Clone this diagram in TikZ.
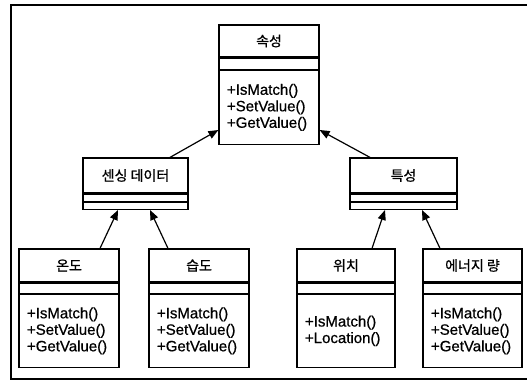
\documentclass[tikz,border=0pt]{standalone}
\usepackage{fontspec}
\setmainfont{Liberation Sans}
\newfontfamily\opsfont[FakeBold=0.7]{Liberation Sans}
\newfontfamily\kor[FakeBold=0.9]{Noto Sans CJK KR}
\usetikzlibrary{arrows.meta}

\begin{document}
\begin{tikzpicture}[x=1pt,y=-1pt,
  cls/.style={draw,line width=1.2pt,inner sep=0pt,font=\kor\fontsize{14}{16}\selectfont},
  part/.style={draw,line width=1.2pt,inner sep=0pt,anchor=north},
  ops/.style={draw,line width=1.2pt,anchor=north,align=left,inner xsep=8pt,inner ysep=0pt,font=\opsfont\fontsize{15}{16.5}\selectfont},
  isa/.style={line width=1.2pt,-{Triangle[length=10pt,width=8pt]}}]
\useasboundingbox (0,0) rectangle (527,380);
\draw[line width=1.5pt] (527,5) -- (11,5) -- (11,379) -- (527,379);

\node[cls,minimum width=100pt,minimum height=32pt] (sok) at (269,41) {속성};
\node[part,minimum width=100pt,minimum height=11pt] (sok-a) at (sok.south) {};
\node[ops,text width=84pt,minimum height=74pt] (sok-m) at (sok-a.south) {+IsMatch()\\+SetValue()\\+GetValue()};

\node[cls,minimum width=105pt,minimum height=35pt] (sense) at (135.5,175.5) {센싱 데이터};
\node[part,minimum width=105pt,minimum height=7pt] (sense-a) at (sense.south) {};
\node[part,minimum width=105pt,minimum height=7pt] (sense-m) at (sense-a.south) {};

\node[cls,minimum width=107pt,minimum height=35pt] (feat) at (403.5,175.5) {특성};
\node[part,minimum width=107pt,minimum height=7pt] (feat-a) at (feat.south) {};
\node[part,minimum width=107pt,minimum height=7pt] (feat-m) at (feat-a.south) {};

\node[cls,minimum width=100pt,minimum height=33pt] (temp) at (69,265.5) {온도};
\node[part,minimum width=100pt,minimum height=10pt] (temp-a) at (temp.south) {};
\node[ops,text width=84pt,minimum height=73pt] (temp-m) at (temp-a.south) {+IsMatch()\\+SetValue()\\+GetValue()};

\node[cls,minimum width=100pt,minimum height=33pt] (humi) at (199,265.5) {습도};
\node[part,minimum width=100pt,minimum height=10pt] (humi-a) at (humi.south) {};
\node[ops,text width=84pt,minimum height=73pt] (humi-m) at (humi-a.south) {+IsMatch()\\+SetValue()\\+GetValue()};

\node[cls,minimum width=98pt,minimum height=33pt] (loc) at (346,265.5) {위치};
\node[part,minimum width=98pt,minimum height=10pt] (loc-a) at (loc.south) {};
\node[ops,text width=82pt,minimum height=73pt] (loc-m) at (loc-a.south) {+IsMatch()\\+Location()};

\node[cls,minimum width=99pt,minimum height=33pt] (energy) at (472.5,265.5) {에너지 량};
\node[part,minimum width=99pt,minimum height=10pt] (energy-a) at (energy.south) {};
\node[ops,text width=83pt,minimum height=73pt] (energy-m) at (energy-a.south) {+IsMatch()\\+SetValue()\\+GetValue()};

\draw[isa] ([xshift=34.5pt]sense.north) -- ([yshift=15pt]sok-m.south west);
\draw[isa] ([xshift=-33.5pt]feat.north) -- ([yshift=15pt]sok-m.south east);
\draw[isa] ([xshift=31pt]temp.north) -- ([xshift=-17.5pt]sense-m.south);
\draw[isa] ([xshift=-31pt]humi.north) -- ([xshift=14.5pt]sense-m.south);
\draw[isa] ([xshift=26pt]loc.north) -- ([xshift=-18.5pt]feat-m.south);
\draw[isa] ([xshift=-32.5pt]energy.north) -- ([xshift=18.5pt]feat-m.south);
\end{tikzpicture}
\end{document}
